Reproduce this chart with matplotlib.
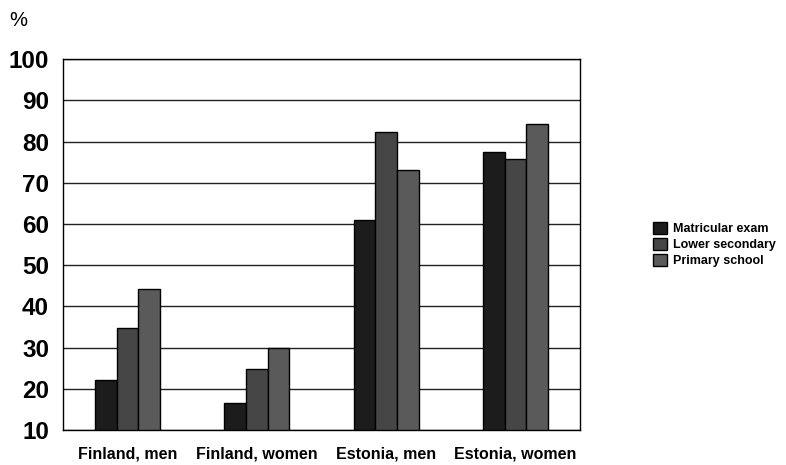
import numpy as np
import matplotlib.pyplot as plt

plt.rcParams['font.family'] = ['Liberation Sans', 'DejaVu Sans']

groups = ['Finland, men', 'Finland, women', 'Estonia, men', 'Estonia, women']
series = ['Matricular exam', 'Lower secondary', 'Primary school']
matricular = [22.2, 16.7, 61.0, 77.5]
lower_secondary = [34.8, 24.8, 82.2, 75.7]
primary = [44.2, 30.0, 73.2, 84.2]
colors = ['#1c1c1c', '#464646', '#5a5a5a']

fig = plt.figure(figsize=(7.86, 4.65), dpi=100)
ax = fig.add_axes([0.080, 0.075, 0.658, 0.798])

x = np.arange(len(groups))
w = 0.167
for i, (vals, name) in enumerate(zip([matricular, lower_secondary, primary], series)):
    ax.bar(x + (i - 1) * w, np.array(vals) - 10, w, bottom=10, color=colors[i],
           edgecolor='black', linewidth=1, label=name, zorder=3)

ax.set_ylim(10, 100)
ax.set_xlim(-0.5, len(groups) - 0.5)
ax.set_yticks(range(10, 101, 10))
ax.yaxis.grid(True, color='#222222', linewidth=1)
ax.set_axisbelow(True)
for s in ax.spines.values():
    s.set_linewidth(1)
    s.set_color('black')

ax.set_xticks(x)
ax.set_xticklabels(groups, fontsize=11.5, fontweight='bold')
ax.tick_params(axis='x', length=0, pad=12)
ax.tick_params(axis='y', length=0, pad=10, labelsize=17.5)
for t in ax.get_yticklabels():
    t.set_fontweight('bold')

fig.text(0.012, 0.945, '%', fontsize=14.5)

ax.legend(loc='center left', bbox_to_anchor=(1.12, 0.5), frameon=False,
          prop={'size': 9, 'weight': 'bold'}, handlelength=1.1, handleheight=1.1,
          handletextpad=0.5, labelspacing=0.2)

fig.savefig('out.png', dpi=100)
